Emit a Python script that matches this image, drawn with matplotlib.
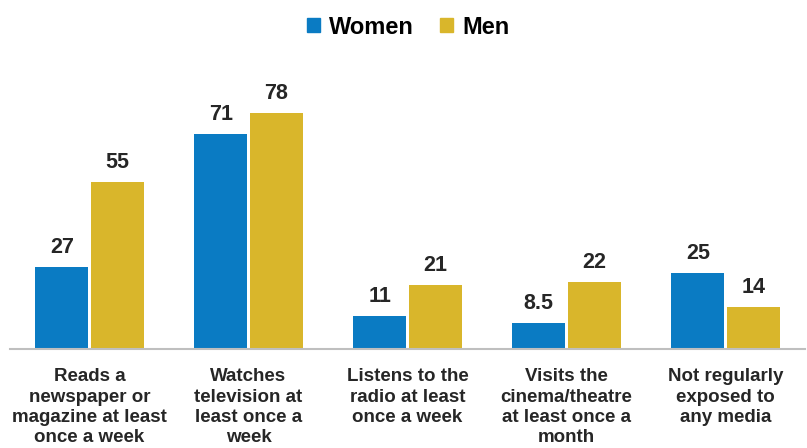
import matplotlib
matplotlib.use("Agg")
import matplotlib.pyplot as plt
from matplotlib.patches import Patch
import numpy as np

plt.rcParams['font.family'] = ['Liberation Sans', 'DejaVu Sans']
plt.rcParams['font.weight'] = 'bold'

categories = [
    "Reads a\nnewspaper or\nmagazine at least\nonce a week",
    "Watches\ntelevision at\nleast once a\nweek",
    "Listens to the\nradio at least\nonce a week",
    "Visits the\ncinema/theatre\nat least once a\nmonth",
    "Not regularly\nexposed to\nany media",
]
series_names = ["Women", "Men"]
women = [27, 71, 11, 8.5, 25]
men = [55, 78, 21, 22, 14]

BLUE = "#0A7BC3"
GOLD = "#D9B62B"
TEXT = "#262626"

fig = plt.figure(figsize=(8.07, 4.48), dpi=100)
W, H = 807, 448
ax = fig.add_axes([10 / W, (H - 349) / H, 795 / W, (349 - 60) / H])

x = np.arange(len(categories))
bw = 0.333
off = 0.174
b1 = ax.bar(x - off, women, bw, color=BLUE, label=series_names[0])
b2 = ax.bar(x + off, men, bw, color=GOLD, label=series_names[1])

def fmt(v):
    return f"{v:g}"

for bars, vals in ((b1, women), (b2, men)):
    for rect, v in zip(bars, vals):
        ax.annotate(fmt(v), (rect.get_x() + rect.get_width() / 2, v),
                    xytext=(0, 6.5), textcoords="offset points",
                    ha="center", va="bottom", fontsize=15.5,
                    fontweight="bold", color=TEXT)

ax.set_xlim(-0.5, len(categories) - 0.5)
ax.set_ylim(0, 95.4)
ax.set_yticks([])
ax.set_xticks(x)
ax.set_xticklabels(categories, fontsize=13.5, fontweight="bold",
                   color=TEXT, linespacing=1.25)
ax.tick_params(axis="x", length=0, pad=14)
for s in ("top", "right", "left"):
    ax.spines[s].set_visible(False)
ax.spines["bottom"].set_color("#BFBFBF")
ax.spines["bottom"].set_linewidth(1.5)

handles = [Patch(color=BLUE, label=series_names[0]),
           Patch(color=GOLD, label=series_names[1])]
fig.legend(handles=handles, loc="center", bbox_to_anchor=(408 / W, 1 - 27 / H),
           ncol=2, frameon=False, handlelength=0.55,
           handleheight=0.55, handletextpad=0.4, columnspacing=1.1,
           prop={'weight': 'bold', 'size': 17})

fig.savefig("out.png", dpi=100)
